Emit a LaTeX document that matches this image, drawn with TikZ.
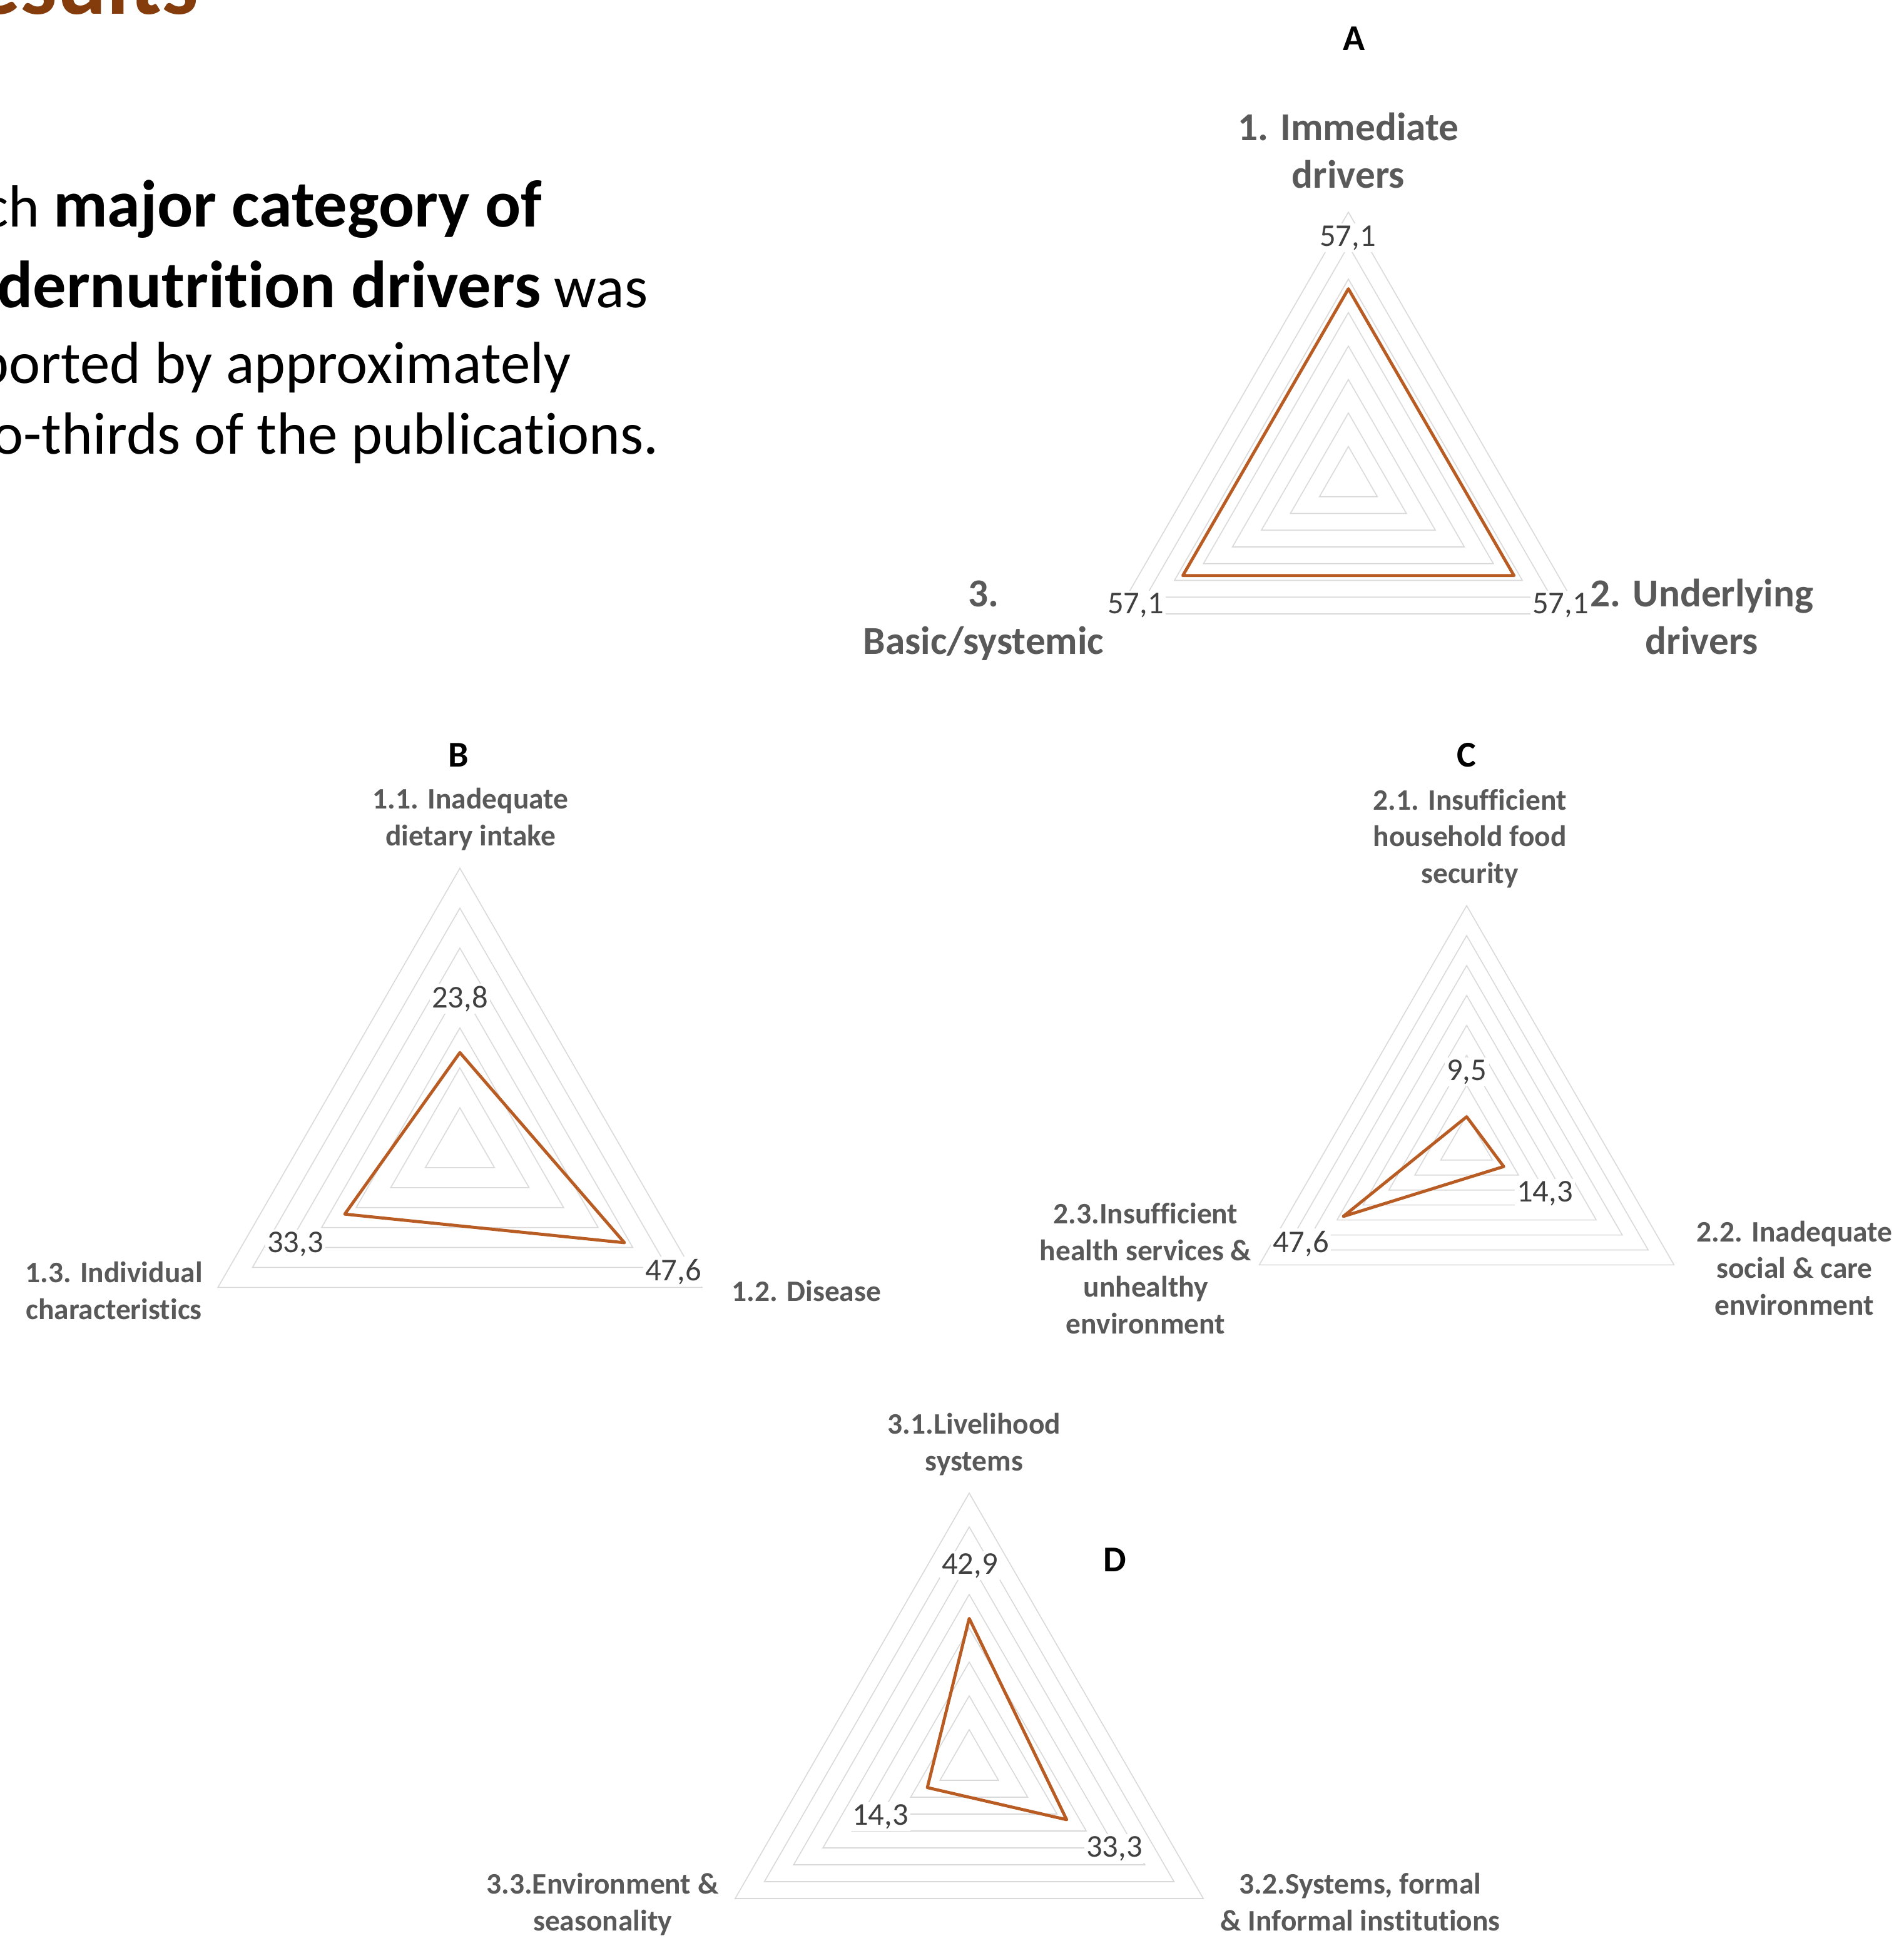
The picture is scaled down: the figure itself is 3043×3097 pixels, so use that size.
\documentclass[tikz,border=0pt]{standalone}
\usepackage{fontspec}
\setmainfont{Carlito}[Ligatures=NoCommon]

\definecolor{seriesorange}{RGB}{184,92,36}
\definecolor{titlebrown}{RGB}{132,60,12}
\definecolor{labgrey}{RGB}{89,89,89}
\definecolor{valgrey}{RGB}{64,64,64}
\definecolor{gridgrey}{RGB}{217,217,217}

\tikzset{
  gridline/.style={draw=gridgrey, line width=0.45pt},
  series/.style={draw=seriesorange, line width=1.4pt, line join=round},
  panel/.style={font=\bfseries\fontsize{16.5}{20}\selectfont, inner sep=0pt},
  biglab/.style={font=\bfseries\fontsize{18}{21.4}\selectfont, text=labgrey, align=center, inner sep=0pt, anchor=base},
  axlab/.style={font=\bfseries\fontsize{13.5}{16.6}\selectfont, text=labgrey, align=center, inner sep=0pt, anchor=base},
  vallab/.style={font=\fontsize{14.4}{17}\selectfont, text=valgrey, fill=white, inner sep=1pt, anchor=base},
  bodytxt/.style={font=\fontsize{27}{33}\selectfont, inner sep=0pt, anchor=base east}
}
\newcommand{\bigbold}[1]{{\bfseries\fontsize{30.3}{36}\selectfont #1}}

\begin{document}
\begin{tikzpicture}[x=0.01cm, y=-0.01cm]
\useasboundingbox[fill=white] (0,0) rectangle (3043,3097);

% heading and summary text
\node[font=\bfseries\fontsize{42}{50}\selectfont, text=titlebrown, inner sep=0pt, anchor=base east] (title) at (318,23) {esults};
\node[bodytxt] (txt1) at (867,362) {ch \bigbold{major category of}};
\node[bodytxt] (txt2) at (1036,491) {\bigbold{dernutrition drivers} was};
\node[bodytxt] (txt3) at (913,612) {ported by approximately};
\node[bodytxt] (txt4) at (1054,725) {o-thirds of the publications.};

% chart A
\begin{scope}[shift={(2155,767)}]
  \foreach \k in {1,...,8}
    \draw[gridline] (0,-53.5*\k) -- (46.33*\k,26.75*\k) -- (-46.33*\k,26.75*\k) -- cycle;
  \coordinate (a1) at (0,-305.5);
  \coordinate (a2) at (264.6,152.75);
  \coordinate (a3) at (-264.6,152.75);
  \draw[series] (a1) -- (a2) -- (a3) -- cycle;
\end{scope}
\node[panel] (pA) at (2164,62) {A};
\node[biglab] (lA1) at (2155,300) {1. Immediate\\drivers};
\node[biglab] (lA2) at (2720,1045) {2. Underlying\\drivers};
\node[biglab] (lA3) at (1572,1045) {3.\\Basic/systemic};
\node[vallab] (vA1) at (2154,393) {57,1};
\node[vallab] (vA2) at (2494,980) {57,1};
\node[vallab] (vA3) at (1815,980) {57,1};

% chart B
\begin{scope}[shift={(735,1834)}]
  \foreach \k in {1,...,7}
    \draw[gridline] (0,-63.8*\k) -- (55.25*\k,31.9*\k) -- (-55.25*\k,31.9*\k) -- cycle;
  \coordinate (b1) at (0,-151.9);
  \coordinate (b2) at (263,151.9);
  \coordinate (b3) at (-184,106.2);
  \draw[series] (b1) -- (b2) -- (b3) -- cycle;
\end{scope}
\node[panel] (pB) at (733,1207) {B};
\node[axlab] (lB1) at (752,1351) {1.1. Inadequate\\dietary intake};
\node[axlab] (lB2) at (1289,2079) {1.2. Disease};
\node[axlab] (lB3) at (182,2108) {1.3. Individual\\characteristics};
\node[vallab] (vB1) at (735,1610) {23,8};
\node[vallab] (vB2) at (1076,2046) {47,6};
\node[vallab] (vB3) at (472,2001) {33,3};

% chart C
\begin{scope}[shift={(2344,1830)}]
  \foreach \k in {1,...,8}
    \draw[gridline] (0,-47.84*\k) -- (41.43*\k,23.92*\k) -- (-41.43*\k,23.92*\k) -- cycle;
  \coordinate (c1) at (0,-45.4);
  \coordinate (c2) at (59.2,34.2);
  \coordinate (c3) at (-197.2,113.9);
  \draw[series] (c1) -- (c2) -- (c3) -- cycle;
\end{scope}
\node[panel] (pC) at (2344,1207) {C};
\node[axlab] (lC1) at (2349,1411) {2.1. Insufficient\\household food\\security};
\node[axlab] (lC2) at (2868,2101) {2.2. Inadequate\\social \& care\\environment};
\node[axlab] (lC3) at (1831,2131) {2.3.Insufficient\\health services \&\\unhealthy\\environment};
\node[vallab] (vC1) at (2344,1726) {9,5};
\node[vallab] (vC2) at (2469,1920) {14,3};
\node[vallab] (vC3) at (2079,2001) {47,6};

% chart D
\begin{scope}[shift={(1549,2818)}]
  \foreach \k in {1,...,8}
    \draw[gridline] (0,-54*\k) -- (46.77*\k,27*\k) -- (-46.77*\k,27*\k) -- cycle;
  \coordinate (d1) at (0,-231.7);
  \coordinate (d2) at (155.7,89.9);
  \coordinate (d3) at (-66.9,38.6);
  \draw[series] (d1) -- (d2) -- (d3) -- cycle;
\end{scope}
\node[panel] (pD) at (1782,2493) {D};
\node[axlab] (lD1) at (1557,2350) {3.1.Livelihood\\systems};
\node[axlab] (lD2) at (2174,3085) {3.2.Systems, formal\\\& Informal institutions};
\node[axlab] (lD3) at (963,3085) {3.3.Environment \&\\seasonality};
\node[vallab] (vD1) at (1550,2515) {42,9};
\node[vallab] (vD2) at (1781,2967) {33,3};
\node[vallab] (vD3) at (1407,2916) {14,3};

\end{tikzpicture}
\end{document}
